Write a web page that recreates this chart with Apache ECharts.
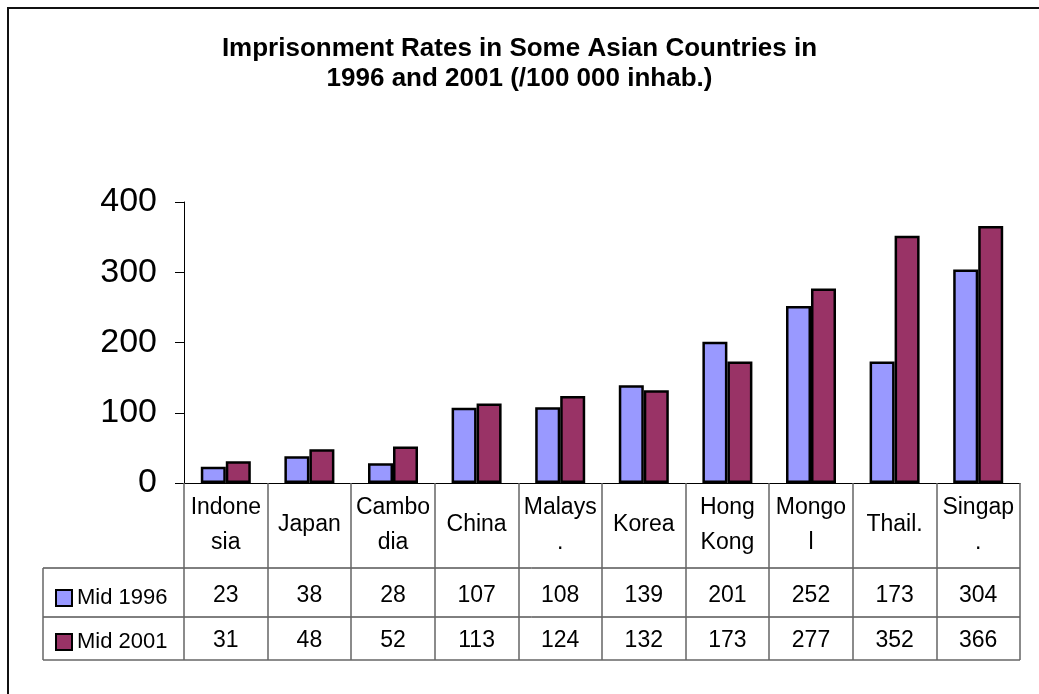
<!DOCTYPE html>
<html>
<head>
<meta charset="utf-8">
<script src="https://cdn.jsdelivr.net/npm/echarts@6/dist/echarts.min.js"></script>
<style>
  html, body { margin: 0; padding: 0; background: #fff; }
  #chart { width: 1039px; height: 694px; }
</style>
</head>
<body>
<div id="chart"></div>
<script>
var countries = ['Indone\nsia', 'Japan', 'Cambo\ndia', 'China', 'Malays\n.', 'Korea', 'Hong\nKong', 'Mongo\nl', 'Thail.', 'Singap\n.'];
var rate1996 = [23, 38, 28, 107, 108, 139, 201, 252, 173, 304];
var rate2001 = [31, 48, 52, 113, 124, 132, 173, 277, 352, 366];
var yTicks = [0, 100, 200, 300, 400];

var font = 'Liberation Sans, Arial, sans-serif';
var chart = echarts.init(document.getElementById('chart'));

// extra category axes used as the data-table rows
function tableRow(values, margin) {
  return {
    type: 'category',
    data: countries,
    position: 'bottom',
    axisLine: { show: false },
    axisTick: { show: false },
    axisLabel: {
      interval: 0,
      margin: margin,
      verticalAlign: 'middle',
      fontFamily: font,
      fontSize: 23,
      color: '#000',
      formatter: function (v, i) { return String(values[i]); }
    }
  };
}

chart.setOption({
  animation: false,
  backgroundColor: '#fff',
  title: {
    text: 'Imprisonment Rates in Some Asian Countries in\n1996 and 2001 (/100 000 inhab.)',
    left: 'center',
    top: 29,
    textStyle: { fontFamily: font, fontSize: 26, fontWeight: 'bold', color: '#000', lineHeight: 30 }
  },
  legend: {
    orient: 'vertical',
    left: 50,
    top: 582,
    itemWidth: 16,
    itemHeight: 16,
    itemGap: 22,
    icon: 'rect',
    textStyle: { fontFamily: font, fontSize: 22, color: '#000' },
    data: ['Mid 1996', 'Mid 2001']
  },
  grid: { left: 184, right: 19, top: 202, bottom: 211 },
  xAxis: [
    {
      type: 'category',
      data: countries,
      axisLine: { show: true, lineStyle: { color: '#000', width: 1 } },
      axisTick: { show: true, interval: 0, length: 177, lineStyle: { color: '#666', width: 1.5 } },
      axisLabel: {
        interval: 0,
        margin: 42,
        verticalAlign: 'middle',
        fontFamily: font,
        fontSize: 23,
        lineHeight: 35,
        color: '#000'
      }
    },
    tableRow(rate1996, 113),
    tableRow(rate2001, 158)
  ],
  yAxis: {
    type: 'value',
    min: yTicks[0],
    max: yTicks[yTicks.length - 1],
    interval: 100,
    axisLine: { show: true, lineStyle: { color: '#000', width: 1 } },
    axisTick: { show: true, length: 9, lineStyle: { color: '#000' } },
    splitLine: { show: false },
    axisLabel: { margin: 27, fontFamily: font, fontSize: 34, color: '#000' }
  },
  graphic: [
    { type: 'rect', shape: { x: 8, y: 8, width: 1100, height: 800 }, style: { fill: 'none', stroke: '#111', lineWidth: 2 } },
    { type: 'line', shape: { x1: 43, y1: 568, x2: 1020, y2: 568 }, style: { stroke: '#000', lineWidth: 1 } },
    { type: 'line', shape: { x1: 43, y1: 617, x2: 1020, y2: 617 }, style: { stroke: '#000', lineWidth: 1 } },
    { type: 'line', shape: { x1: 43, y1: 660, x2: 1020, y2: 660 }, style: { stroke: '#666', lineWidth: 1.5 } },
    { type: 'line', shape: { x1: 43, y1: 568, x2: 43, y2: 660 }, style: { stroke: '#666', lineWidth: 1.5 } }
  ],
  series: [
    {
      name: 'Mid 1996',
      type: 'bar',
      data: rate1996,
      barWidth: 25,
      barGap: '0%',
      itemStyle: { color: '#9999FF', borderColor: '#000', borderWidth: 2.5 }
    },
    {
      name: 'Mid 2001',
      type: 'bar',
      data: rate2001,
      barWidth: 25,
      barGap: '0%',
      itemStyle: { color: '#993366', borderColor: '#000', borderWidth: 2.5 }
    }
  ]
});
</script>
</body>
</html>
